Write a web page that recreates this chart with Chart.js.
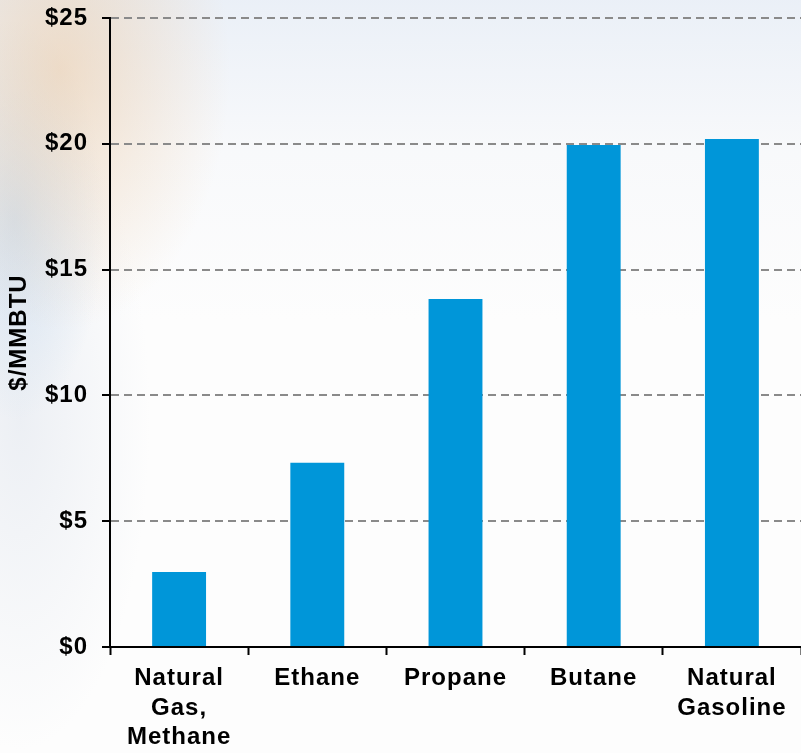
<!DOCTYPE html>
<html>
<head>
<meta charset="utf-8">
<script src="https://cdn.jsdelivr.net/npm/chart.js@4/dist/chart.umd.min.js"></script>
<style>
  html, body { margin: 0; padding: 0; }
  body {
    width: 801px; height: 753px; overflow: hidden;
    background:
      radial-gradient(ellipse 170px 260px at 60px 70px, rgba(236,200,160,0.55), rgba(236,200,160,0) 100%),
      radial-gradient(ellipse 90px 200px at 15px 220px, rgba(190,212,235,0.6), rgba(190,212,235,0) 100%),
      radial-gradient(ellipse 130px 330px at 20px 420px, rgba(225,230,238,0.6), rgba(225,230,238,0) 100%),
      linear-gradient(to bottom, rgba(228,235,245,0.75) 0px, rgba(240,243,248,0.4) 150px, rgba(255,255,255,0) 320px),
      #fdfdfd;
  }
  #wrap { position: absolute; left: 0; top: 0; width: 801px; height: 753px; }
</style>
</head>
<body>
<div id="wrap"><canvas id="c" width="801" height="753"></canvas></div>
<script>
const categories = [["Natural", "Gas,", "Methane"], "Ethane", "Propane", "Butane", ["Natural", "Gasoline"]];
const pricePerMMBTU = [2.98, 7.32, 13.83, 19.95, 20.19];
const yAxisTitle = "$/MMBTU";
const yMin = 0, yMax = 25, yStep = 5;

const FONT = "'Liberation Sans', Arial, Helvetica, sans-serif";
const SPACING = '1px';

const spacingPlugin = {
  id: 'spacing',
  beforeUpdate(chart) { chart.ctx.letterSpacing = SPACING; },
  beforeDraw(chart) { chart.ctx.letterSpacing = SPACING; }
};

new Chart(document.getElementById('c'), {
  type: 'bar',
  data: {
    labels: categories,
    datasets: [{
      data: pricePerMMBTU,
      backgroundColor: '#0096d9',
      borderWidth: 0,
      barPercentage: 0.39,
      categoryPercentage: 1.0
    }]
  },
  plugins: [spacingPlugin],
  options: {
    responsive: false,
    animation: false,
    devicePixelRatio: 1,
    layout: { padding: { top: 18, right: 0, bottom: 3, left: 0 } },
    plugins: { legend: { display: false }, tooltip: { enabled: false } },
    scales: {
      x: {
        afterFit(scale) { scale.height = 103; scale.paddingLeft = 0; scale.paddingRight = 0; },
        grid: {
          display: true,
          drawOnChartArea: false,
          drawTicks: true,
          tickLength: 8,
          tickColor: '#000',
          tickWidth: 2,
          tickBorderDash: [],
          color: '#000'
        },
        border: { display: true, color: '#000', width: 2 },
        ticks: {
          color: '#000',
          padding: 9,
          maxRotation: 0,
          autoSkip: false,
          font: { family: FONT, size: 24, weight: 'bold', lineHeight: 1.22 }
        }
      },
      y: {
        min: yMin,
        max: yMax,
        afterFit(scale) { scale.width = 110; scale.paddingTop = 0; scale.paddingBottom = 0; },
        grid: {
          display: true,
          drawOnChartArea: true,
          drawTicks: true,
          tickLength: 8,
          tickColor: '#000',
          tickWidth: 2,
          tickBorderDash: [],
          color: '#8a8a8a',
          lineWidth: 2
        },
        border: { display: true, color: '#000', width: 2, dash: [8, 5] },
        ticks: {
          stepSize: yStep,
          color: '#000',
          padding: 14,
          font: { family: FONT, size: 24, weight: 'bold' },
          callback: (v) => '$' + v
        },
        title: {
          display: true,
          text: yAxisTitle,
          color: '#000',
          padding: { top: 5, bottom: 0 },
          font: { family: FONT, size: 24, weight: 'bold', lineHeight: 1.2 }
        }
      }
    }
  }
});
</script>
</body>
</html>
